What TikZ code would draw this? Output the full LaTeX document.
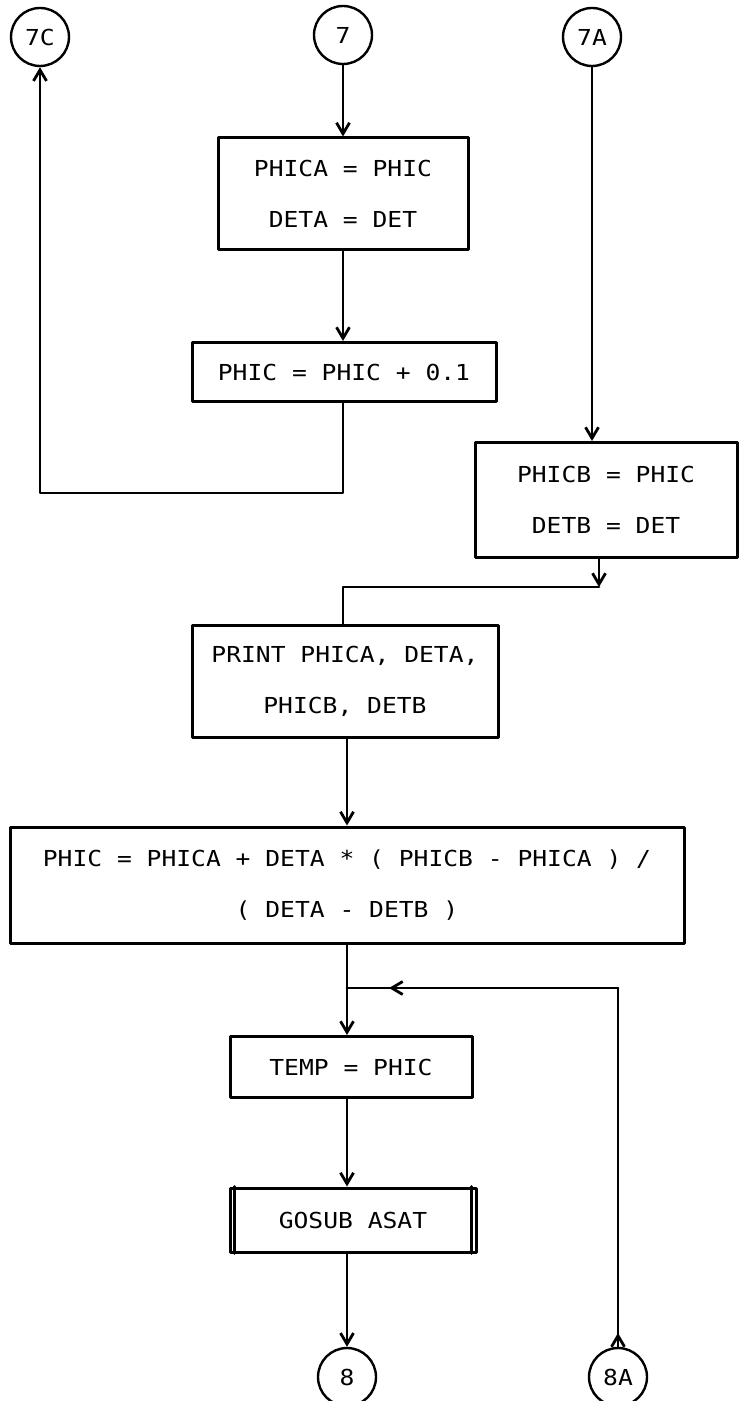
\documentclass[tikz,border=0pt]{standalone}
\usepackage{fontspec}
\newfontfamily\plotfont[FakeStretch=1.12]{DejaVu Sans Mono}
\usetikzlibrary{arrows.meta}
\begin{document}
\begin{tikzpicture}[x=0.5pt, y=-0.5pt, line join=round, line cap=round,
		every path/.style={line width=1.4pt},
		>={Straight Barb[length=5.5pt,width=6.5pt]},
		proc/.style={draw, line width=1.5pt, inner sep=0pt, align=center, font={\plotfont\fontsize{11}{25.5}\selectfont}},
		conn/.style={draw, circle, line width=1.2pt, minimum size=29pt, inner sep=0pt, font={\plotfont\fontsize{11}{13}\selectfont}}]
	\useasboundingbox (0,0) rectangle (739,1401);
	
	\node[conn] (c7C) at (40,37) {7C};
	\node[conn] (c7) at (343,35) {7};
	\node[conn] (c7A) at (592,37) {7A};
	
	\node[proc, minimum width=125pt, minimum height=56pt] (b1) at (343,194) {PHICA = PHIC\\DETA = DET};
	\node[proc, minimum width=152pt, minimum height=29.5pt] (b2) at (344,372) {PHIC = PHIC + 0.1};
	\node[proc, minimum width=131pt, minimum height=57.5pt] (b3) at (606,500) {PHICB = PHIC\\DETB = DET};
	\node[proc, minimum width=153pt, minimum height=56pt] (b4) at (345,681) {PRINT PHICA, DETA,\\PHICB, DETB};
	\node[proc, minimum width=337pt, minimum height=58pt] (b5) at (347,885) {PHIC = PHICA + DETA * ( PHICB - PHICA ) /\\( DETA - DETB )};
	\node[proc, minimum width=121pt, minimum height=30.5pt] (b6) at (351,1067) {TEMP = PHIC};
	\node[proc, minimum width=123pt, minimum height=32pt] (b7) at (353,1220) {GOSUB ASAT};
	
	\node[conn] (c8) at (347,1377) {8};
	\node[conn] (c8A) at (618,1377) {8A};
	
	\coordinate (j2) at (343,493);
	\coordinate (j7A) at (599,587);
	\coordinate (j7) at (343,587);
	\coordinate (jR) at (618,988);
	\coordinate (jL) at (347,988);
	\coordinate (tipL) at (389,988);
	\coordinate (tip8A) at (618,1333);
	
	\draw[->] (c7) -- (c7 |- b1.north);
	\draw[->] (b1.south) -- (b1.south |- b2.north);
	\draw[->] (j2 |- b2.south) -- (j2) -| (c7C.south);
	\draw[->] (c7A) -- (c7A |- b3.north);
	\draw[->] (j7A |- b3.south) -- (j7A);
	\draw (j7A) -- (j7) -- (j7 |- b4.north);
	\draw[->] (b4.south -| jL) -- (jL |- b5.north);
	\draw[->] (jL |- b5.south) -- (jL |- b6.north);
	\draw[->] (jL |- b6.south) -- (jL |- b7.north);
	\draw[->] (jL |- b7.south) -- (c8.north);
	\draw (c8A.north) -- (jR) -- (jL);
	\draw[->] (jR) -- (tipL);
	\draw[->] (c8A.north) -- (tip8A);
	
	% Doppelte Seitenlinien des Unterprogramms
	\draw ([xshift=3pt]b7.north west) -- ([xshift=3pt]b7.south west);
	\draw ([xshift=-3pt]b7.north east) -- ([xshift=-3pt]b7.south east);
\end{tikzpicture}
\end{document}
